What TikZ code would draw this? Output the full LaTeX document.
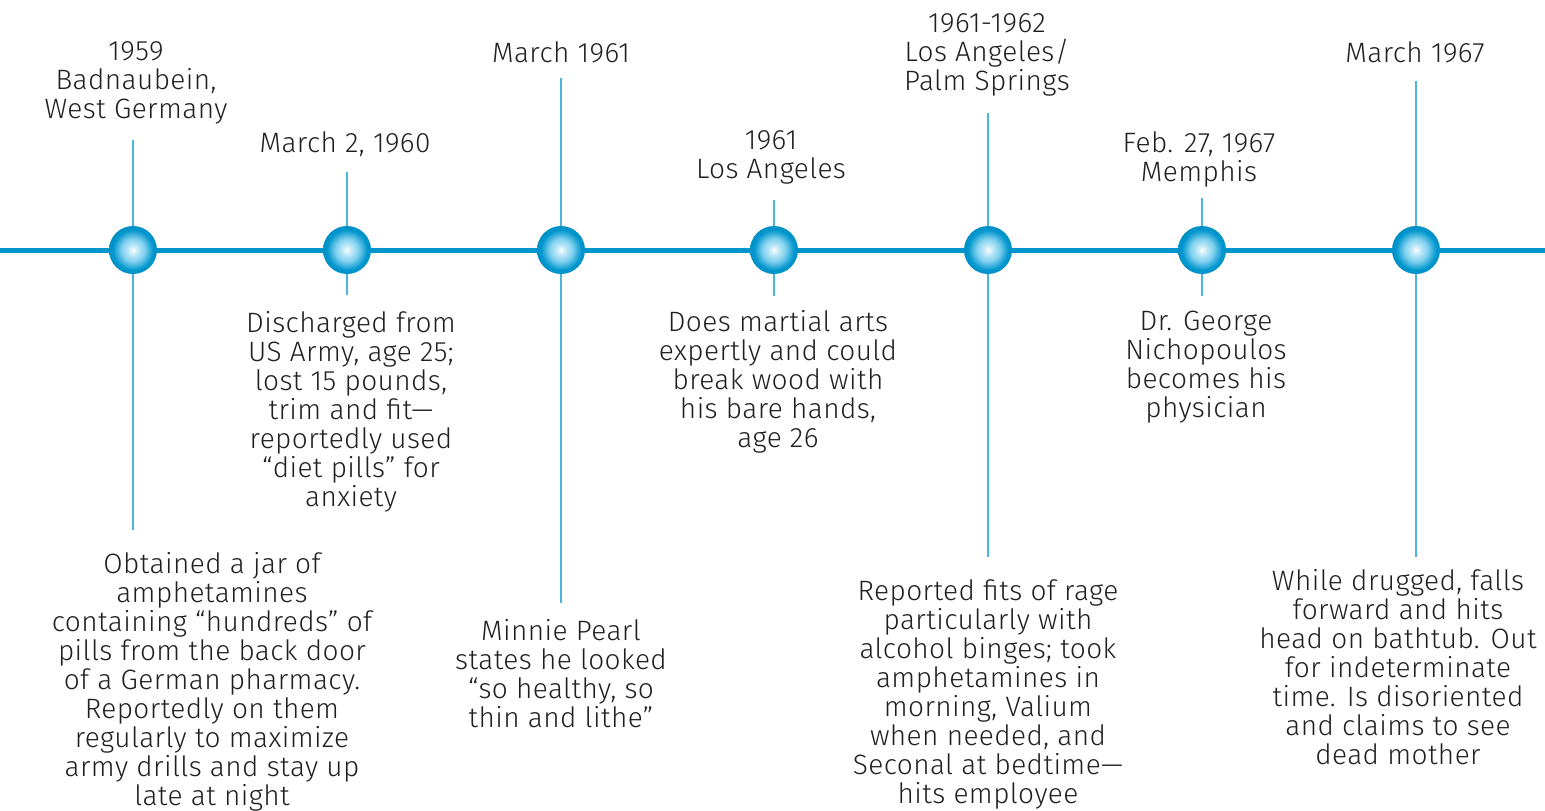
\documentclass[tikz,border=0pt]{standalone}
\usepackage{fontspec}
\setmainfont{Fira Sans}[UprightFont=* Light, LetterSpace=1.5]
\definecolor{tl}{HTML}{0096CD}
\definecolor{stemc}{HTML}{4AB6E0}
\definecolor{txt}{HTML}{231F20}
\definecolor{dmid}{HTML}{7FD0EE}
\definecolor{dlight}{HTML}{C8ECF9}
\definecolor{dedge}{HTML}{0090C6}
\pgfdeclareradialshading{dotshade}{\pgfpoint{0bp}{0bp}}{color(0bp)=(white); color(4bp)=(dlight); color(12bp)=(dmid); color(21bp)=(tl); color(25bp)=(dedge); color(50bp)=(dedge)}
\tikzset{
  dot/.style={circle, minimum size=48pt, inner sep=0pt, shading=dotshade},
  stem/.style={draw=stemc, line width=1.2pt},
  axis/.style={draw=tl, line width=5pt},
  lbl/.style={anchor=north, inner sep=0pt, align=center, text=txt, font=\fontsize{28}{29}\selectfont}
}
\begin{document}
\begin{tikzpicture}[x=1pt,y=-1pt]
\useasboundingbox (0,0) rectangle (1545,811);
% stems
\coordinate (t1) at (133,140); \coordinate (b1) at (133,530);
\coordinate (t2) at (347,172); \coordinate (b2) at (347,295);
\coordinate (t3) at (561,78);  \coordinate (b3) at (561,603);
\coordinate (t4) at (774,200); \coordinate (b4) at (774,296);
\coordinate (t5) at (988,113); \coordinate (b5) at (988,557);
\coordinate (t6) at (1202,198); \coordinate (b6) at (1202,296);
\coordinate (t7) at (1416,81); \coordinate (b7) at (1416,557);
\foreach \i in {1,...,7} {\draw[stem] (t\i) -- (b\i);}
% axis
\coordinate (axl) at (0,250); \coordinate (axr) at (1545,250);
\draw[axis] (axl) -- (axr);
% dots
\node[dot] (d1) at (133,250) {};
\node[dot] (d2) at (347,250) {};
\node[dot] (d3) at (561,250) {};
\node[dot] (d4) at (774,250) {};
\node[dot] (d5) at (988,250) {};
\node[dot] (d6) at (1202,250) {};
\node[dot] (d7) at (1416,250) {};
% top labels
\node[lbl] (top1) at (136,41) {1959\\Badnaubein,\\West Germany};
\node[lbl] (top2) at (345,131) {March 2, 1960};
\node[lbl] (top3) at (561,41) {March 1961};
\node[lbl] (top4) at (771,130) {1961\\Los Angeles};
\node[lbl] (top5) at (987,13) {1961-1962\\Los Angeles/\\Palm Springs};
\node[lbl] (top6) at (1199,131) {Feb. 27, 1967\\Memphis};
\node[lbl] (top7) at (1415,41) {March 1967};
% bottom labels
\node[lbl] (bot1) at (212,552) {Obtained a jar of\\amphetamines\\containing “hundreds” of\\pills from the back door\\of a German pharmacy.\\Reportedly on them\\regularly to maximize\\army drills and stay up\\late at night};
\node[lbl] (bot2) at (351,311) {Discharged from\\US Army, age 25;\\lost 15 pounds,\\trim and fit—\\reportedly used\\“diet pills” for\\anxiety};
\node[lbl] (bot3) at (561,619) {Minnie Pearl\\states he looked\\“so healthy, so\\thin and lithe”};
\node[lbl] (bot4) at (778,310) {Does martial arts\\expertly and could\\break wood with\\his bare hands,\\age 26};
\node[lbl] (bot5) at (988,579) {Reported fits of rage\\particularly with\\alcohol binges; took\\amphetamines in\\morning, Valium\\when needed, and\\Seconal at bedtime—\\hits employee};
\node[lbl] (bot6) at (1206,311) {Dr. George\\Nichopoulos\\becomes his\\physician};
\node[lbl] (bot7) at (1398,569) {While drugged, falls\\forward and hits\\head on bathtub. Out\\for indeterminate\\time. Is disoriented\\and claims to see\\dead mother};
\end{tikzpicture}
\end{document}
